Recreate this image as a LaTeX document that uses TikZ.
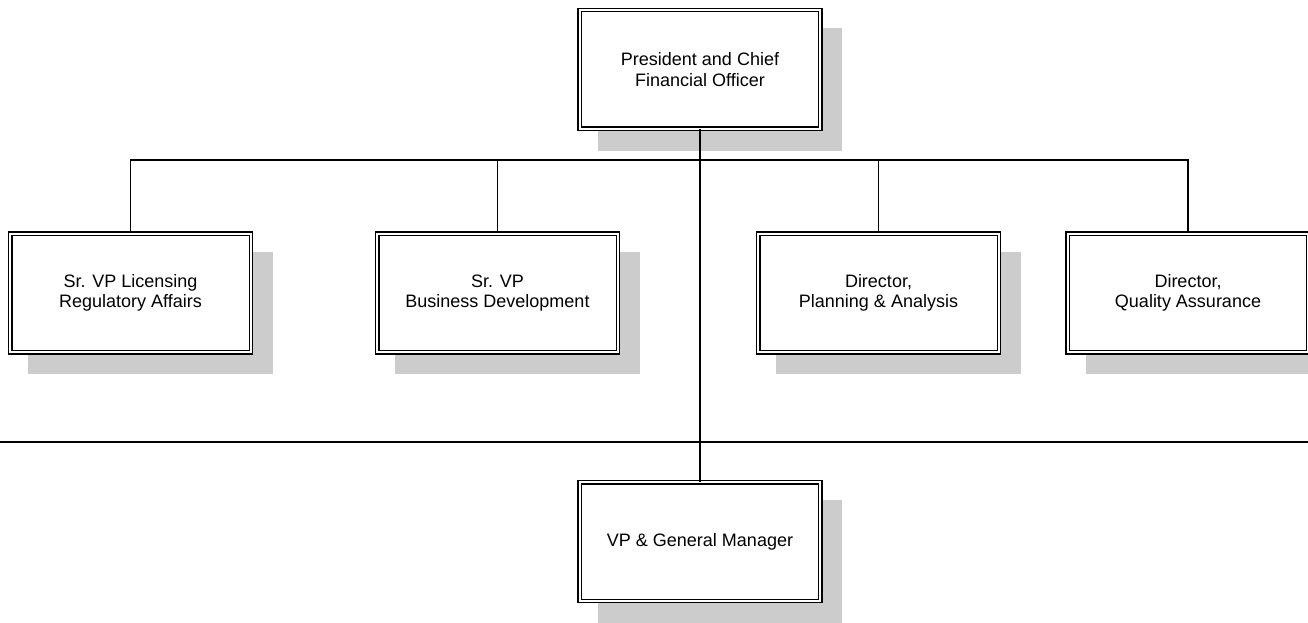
\documentclass[tikz,border=0pt]{standalone}
\usepackage{fontspec}
\setmainfont{Liberation Sans}
\usetikzlibrary{shadows}
\begin{document}
\begin{tikzpicture}[x=1pt,y=-1pt,
  orgbox/.style={draw, double, double distance=1.8pt, line width=1.4pt, fill=white,
    minimum width=240.6pt, minimum height=118.6pt, inner sep=0pt, align=center,
    font=\fontsize{18}{20.5}\selectfont,
    drop shadow={shadow xshift=20pt, shadow yshift=-20pt, fill=black!20, draw=black!20, line width=4pt, opacity=1}},
  conn/.style={line width=1.6pt}]
\useasboundingbox (0,0) rectangle (1308,623);
\node[orgbox] (top) at (700,69.5) {President and Chief\\Financial Officer};
\node[orgbox] (c1) at (130.5,293) {Sr. VP Licensing\\Regulatory Affairs};
\node[orgbox] (c2) at (497.5,293) {Sr. VP\\Business Development};
\node[orgbox] (c3) at (878.5,293) {Director,\\Planning \& Analysis};
\node[orgbox] (c4) at (1188,293) {Director,\\Quality Assurance};
\node[orgbox] (vp) at (700,541.5) {VP \& General Manager};
\coordinate (bar) at (700,160);
\coordinate (hl) at (0,442);
\coordinate (hr) at (1308,442);
\draw[conn] (top.south) -- (vp.north);
\draw[conn] (c1.north) -- (c1.north |- bar) -- (c4.north |- bar) -- (c4.north);
\draw[conn] (c2.north) -- (c2.north |- bar);
\draw[conn] (c3.north) -- (c3.north |- bar);
\draw[conn] (hl) -- (hr);
\end{tikzpicture}
\end{document}
